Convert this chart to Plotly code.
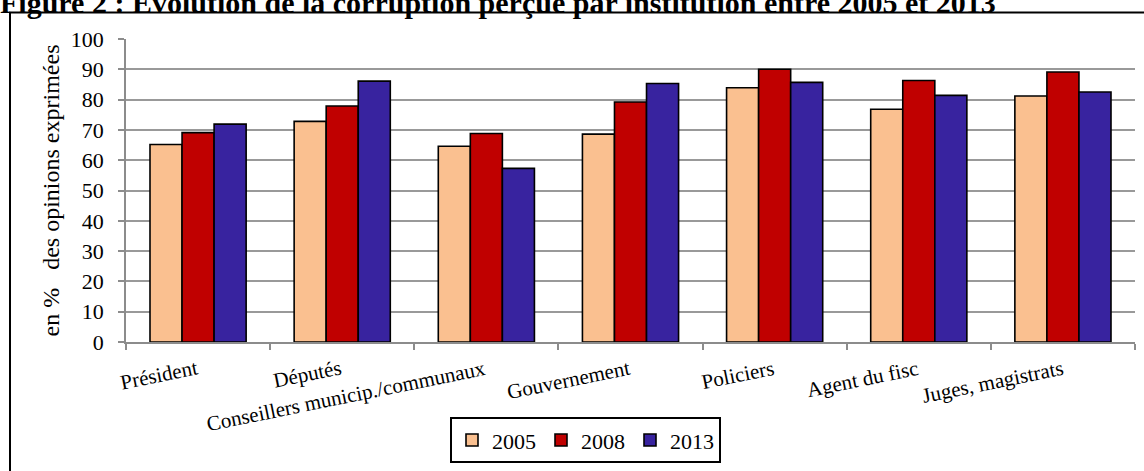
import plotly.graph_objects as go

categories = ["Président", "Députés", "Conseillers municip./communaux", "Gouvernement",
              "Policiers", "Agent du fisc", "Juges, magistrats"]
years = ["2005", "2008", "2013"]
v2005 = [65.2, 72.8, 64.6, 68.6, 83.9, 76.8, 81.2]
v2008 = [69.1, 77.9, 68.8, 79.2, 90.0, 86.3, 89.1]
v2013 = [71.9, 86.1, 57.3, 85.3, 85.7, 81.4, 82.5]
colors = ["#FAC090", "#C00000", "#38239F"]
y_ticks = list(range(0, 101, 10))

W, H = 1144, 471
L, R, T, B = 126, 9, 38.5, 128.5
PW, PH = W - L - R, H - T - B

def px(xp):
    return (xp - L) / PW

def py(yp):
    return 1 - (yp - T) / PH

FONT = "Liberation Serif, Times New Roman, serif"

fig = go.Figure()
for name, vals, col in zip(years, [v2005, v2008, v2013], colors):
    fig.add_trace(go.Bar(x=categories, y=vals, name=name,
                         marker=dict(color=col, line=dict(color="black", width=1.6))))

annotations = []
for c in categories:
    annotations.append(dict(x=c, xref="x", y=py(354), yref="paper", text=c,
                            showarrow=False, textangle=-11.5, xanchor="right", yanchor="top",
                            xshift=4,
                            font=dict(family=FONT, size=21, color="black")))
annotations.append(dict(x=px(-2), xref="paper", y=py(2), yref="paper",
                        text="<b>Figure 2 : Évolution de la corruption perçue par institution entre 2005 et 2013</b>",
                        showarrow=False, xanchor="left", yanchor="middle",
                        font=dict(family=FONT, size=30, color="black")))

fig.update_layout(
    width=W, height=H,
    margin=dict(l=L, r=R, t=T, b=B, pad=0, autoexpand=False),
    paper_bgcolor="white", plot_bgcolor="white",
    barmode="group", bargap=0.333, bargroupgap=0,
    font=dict(family=FONT, size=20, color="black"),
    showlegend=True,
    legend=dict(orientation="h", x=px(585.5), xanchor="center", y=py(418), yanchor="top",
                bordercolor="black", borderwidth=2, font=dict(family=FONT, size=22),
                traceorder="normal", itemwidth=30),
    annotations=annotations,
    shapes=[dict(type="rect", xref="paper", yref="paper",
                 x0=px(10), x1=px(1160), y0=py(490), y1=py(12),
                 line=dict(color="black", width=2), fillcolor="rgba(0,0,0,0)", layer="below")],
)
fig.update_xaxes(range=[-0.5, len(categories) - 0.5], autorange=False,
                 showticklabels=False, ticks="outside", tickson="boundaries", ticklen=6,
                 tickcolor="#8c8c8c", tickwidth=1.5, showline=True, linecolor="#8c8c8c",
                 linewidth=1.5, showgrid=False)
fig.update_yaxes(range=[0, 100], autorange=False, tickvals=y_ticks, ticks="outside", ticklen=6,
                 tickcolor="#8c8c8c", tickwidth=1.5, showline=True, linecolor="#8c8c8c",
                 linewidth=1.5, showgrid=True, gridcolor="#999999", gridwidth=1.5,
                 ticklabelstandoff=10,
                 tickfont=dict(family=FONT, size=22, color="black"),
                 title=dict(text="en %\u00a0\u00a0 des opinions exprimées",
                            font=dict(family=FONT, size=24, color="black"), standoff=4),
                 zeroline=False)

fig.write_html("out.html")
